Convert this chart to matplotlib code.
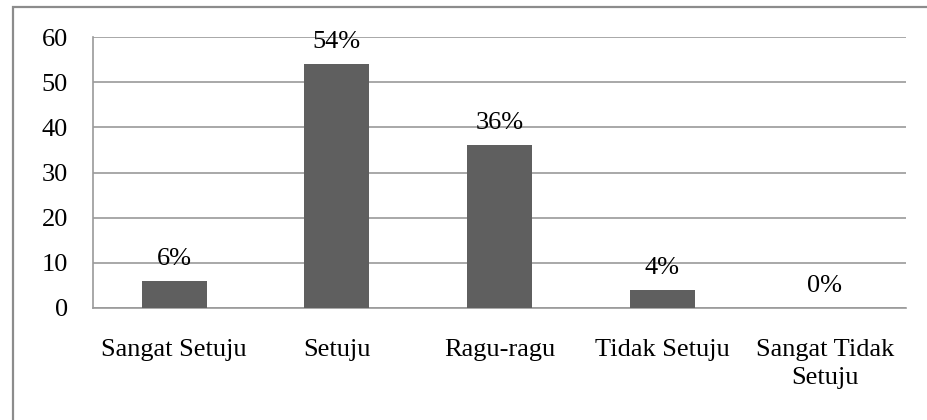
import matplotlib.pyplot as plt
from matplotlib.patches import Rectangle

categories = ['Sangat Setuju', 'Setuju', 'Ragu-ragu', 'Tidak Setuju', 'Sangat Tidak\nSetuju']
values = [6, 54, 36, 4, 0]
labels = ['6%', '54%', '36%', '4%', '0%']
yticks = [0, 10, 20, 30, 40, 50, 60]

plt.rcParams['font.family'] = ['Liberation Serif', 'DejaVu Serif']

W, H = 927, 420
fig = plt.figure(figsize=(W / 100, H / 100), dpi=100)
ax = fig.add_axes([93 / W, 1 - 308 / H, 813 / W, 271 / H])

# rahmen grafik
fig.patches.append(Rectangle((13 / W, -0.1), 1.2, 1.1 - 7 / H, transform=fig.transFigure,
                             fill=False, edgecolor='#8c8c8c', linewidth=1.6))

x = range(len(categories))
ax.bar(x, values, width=0.4, color='#5f5f5f', zorder=3)
for i, v in enumerate(values):
    ax.text(i, v + 3.6, labels[i], ha='center', va='baseline', fontsize=19, color='black')

ax.set_xlim(-0.5, len(categories) - 0.5)
ax.set_ylim(0, 60)
ax.set_yticks(yticks)
ax.yaxis.grid(True, color='#9a9a9a', linewidth=1.2, zorder=0)
ax.set_xticks(list(x))
ax.set_xticklabels(categories, fontsize=19, linespacing=1.4)
ax.tick_params(axis='y', labelsize=19, length=0, pad=18)
ax.tick_params(axis='x', length=0, pad=22)
for s in ['top', 'right']:
    ax.spines[s].set_visible(False)
ax.spines['left'].set_color('#9a9a9a')
ax.spines['bottom'].set_color('#9a9a9a')
ax.spines['left'].set_linewidth(1.2)
ax.spines['bottom'].set_linewidth(1.2)

fig.savefig('out.png', dpi=100)
